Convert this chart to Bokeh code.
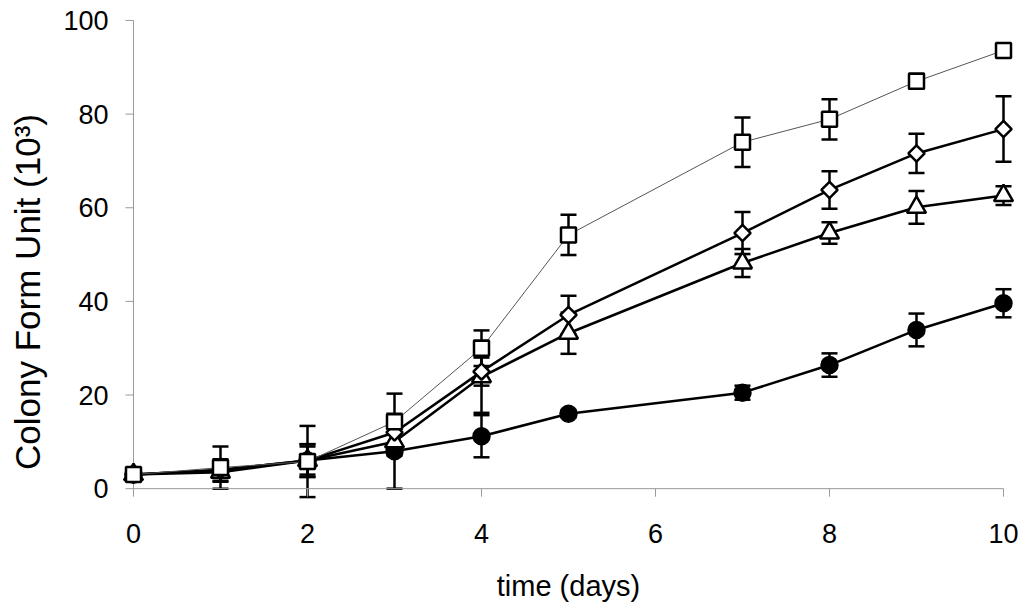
import math
from bokeh.plotting import figure
from bokeh.models import ColumnDataSource, Whisker, TeeHead, FixedTicker, Range1d
from bokeh.embed import file_html
from bokeh.resources import INLINE

days = [0, 1, 2, 3, 4, 5, 7, 8, 9, 10]

square_y = [3.0, 4.5, 5.8, 14.3, 30.0, 54.2, 74.0, 78.9, 87.0, 93.6]
square_err = [0.6, 4.5, 7.6, 6.0, 3.8, 4.3, 5.3, 4.3, 1.6, 0.8]

diamond_y = [3.0, 4.0, 6.0, 12.0, 25.0, 37.1, 54.6, 63.8, 71.6, 76.8]
diamond_err = [0.5, 2.3, 3.5, 3.0, 3.0, 4.1, 4.5, 4.0, 4.2, 7.0]

triangle_y = [3.0, 3.5, 6.0, 10.0, 23.9, 33.2, 48.2, 54.6, 60.1, 62.6]
triangle_err = [0.5, 2.0, 3.0, 3.0, 7.7, 4.4, 3.0, 2.3, 3.5, 2.0]

circle_y = [3.0, 4.0, 6.0, 8.0, 11.2, 16.0, 20.5, 26.4, 33.9, 39.6]
circle_err = [0.5, 1.5, 3.5, 8.0, 4.5, 0.8, 1.5, 2.5, 3.5, 3.0]

x_ticks = [0, 2, 4, 6, 8, 10]
y_ticks = [0, 20, 40, 60, 80, 100]

FONT = "Liberation Sans"
AXIS_GRAY = "#9a9a9a"

p = figure(width=1024, height=604, output_backend="svg", toolbar_location=None,
           x_range=Range1d(-0.1954, 10.1954), y_range=Range1d(-17.48, 101.49),
           min_border_left=116, min_border_right=4, min_border_top=13, min_border_bottom=33)
p.outline_line_color = None
p.grid.visible = False
p.background_fill_color = "white"

for ax in (p.xaxis[0], p.yaxis[0]):
    ax.axis_line_color = None
    ax.major_tick_line_color = None
    ax.major_tick_in = 0
    ax.major_tick_out = 0
    ax.minor_tick_line_color = None
    ax.minor_tick_out = 0
    ax.major_label_text_font = FONT
    ax.major_label_text_font_size = "27px"
    ax.major_label_text_color = "black"
    ax.axis_label_text_font = FONT
    ax.axis_label_text_font_style = "normal"
    ax.axis_label_text_color = "black"

p.xaxis[0].ticker = FixedTicker(ticks=x_ticks)
p.yaxis[0].ticker = FixedTicker(ticks=y_ticks)
p.xaxis[0].axis_label = "time (days)"
p.yaxis[0].axis_label = "Colony Form Unit (10³)"
p.xaxis[0].axis_label_text_font_size = "29px"
p.yaxis[0].axis_label_text_font_size = "35px"
p.xaxis[0].major_label_standoff = -47
p.yaxis[0].major_label_standoff = 8
p.xaxis[0].axis_label_standoff = 24
p.yaxis[0].axis_label_standoff = 13

# axis rules at x=0 / y=0 with outward ticks
p.line(x=[0, 0], y=[y_ticks[0], y_ticks[-1]], line_color=AXIS_GRAY, line_width=1)
p.line(x=[x_ticks[0], x_ticks[-1]], y=[0, 0], line_color=AXIS_GRAY, line_width=1)
p.ray(x=[0] * len(y_ticks), y=y_ticks, length=8, length_units="screen", angle=math.pi,
      line_color=AXIS_GRAY, line_width=1)
p.ray(x=x_ticks, y=[0] * len(x_ticks), length=8, length_units="screen", angle=-math.pi / 2,
      line_color=AXIS_GRAY, line_width=1)


def add_series(yvals, errs, line_color, line_width, marker, size, fill, angle=0.0):
    src = ColumnDataSource(dict(x=days, y=yvals,
                                upper=[a + b for a, b in zip(yvals, errs)],
                                lower=[a - b for a, b in zip(yvals, errs)]))
    p.line("x", "y", source=src, line_color=line_color, line_width=line_width)
    w = Whisker(source=src, base="x", upper="upper", lower="lower", dimension="height",
                line_color="black", line_width=2.5,
                upper_head=TeeHead(size=16, line_color="black", line_width=2.5),
                lower_head=TeeHead(size=16, line_color="black", line_width=2.5))
    p.add_layout(w)
    p.scatter("x", "y", source=src, marker=marker, size=size, fill_color=fill,
              line_color="black", line_width=2.5, angle=angle)


add_series(circle_y, circle_err, "black", 2.5, "circle", 16, "black")
add_series(triangle_y, triangle_err, "black", 2.5, "triangle", 19, "white")
add_series(diamond_y, diamond_err, "black", 2.5, "square", 11.5, "white", angle=math.pi / 4)
add_series(square_y, square_err, "#555555", 1, "square", 15, "white")

open("out.html", "w").write(file_html(p, INLINE))
